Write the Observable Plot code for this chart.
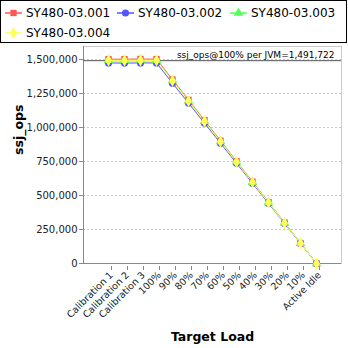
<!DOCTYPE html>
<html>
<head>
<meta charset="utf-8">
<script src="https://cdn.jsdelivr.net/npm/d3@7"></script>
<script src="https://cdn.jsdelivr.net/npm/@observablehq/plot@0.6"></script>
<style>
  html, body { margin: 0; padding: 0; background: #fff; }
  body { width: 348px; height: 348px; overflow: hidden; font-family: "DejaVu Sans", sans-serif; }
  #legend { box-sizing: border-box; width: 347px; height: 43px; border: 1px solid #000; position: relative; margin: 0; }
  .item { position: absolute; display: flex; align-items: center; font-size: 12px; color: #000; height: 16px; }
  .item svg { margin-right: 4px; }
  #chart svg { display: block; }
</style>
</head>
<body>
<div id="legend"></div>
<div id="chart"></div>
<script>
const categories = ["Calibration 1","Calibration 2","Calibration 3","100%","90%","80%","70%","60%","50%","40%","30%","20%","10%","Active Idle"];
const seriesNames = ["SY480-03.001","SY480-03.002","SY480-03.003","SY480-03.004"];
const seriesColors = ["#ff5555","#5555ff","#55ff55","#ffff55"];
const seriesSymbols = ["square","circle","triangle","diamond"];
const s001 = [1503000,1503000,1504000,1503000,1353000,1203000,1053000,903000,752000,602000,451000,301000,150000,0];
const s002 = [1475000,1474000,1475000,1475000,1326000,1180000,1032000,885000,737000,590000,442000,295000,147000,0];
const s003 = [1496000,1496000,1497000,1496000,1346000,1197000,1047000,898000,748000,598000,449000,299000,150000,0];
const s004 = [1493000,1492000,1493000,1493000,1343000,1194000,1044000,895000,746000,597000,448000,298000,149000,0];
const yTicks = [0,250000,500000,750000,1000000,1250000,1500000];
const refValue = 1491722;
const refLabel = "ssj_ops@100% per JVM=1,491,722";

const allSeries = [s001, s002, s003, s004];
const data = [];
allSeries.forEach((vals, si) => vals.forEach((v, i) => data.push({series: seriesNames[si], cat: categories[i], value: v})));

// Legend
const legend = document.getElementById("legend");
const legendPos = [[4,4],[116,4],[229,4],[4,24]];
seriesNames.forEach((name, i) => {
  const div = document.createElement("div");
  div.className = "item";
  div.style.left = legendPos[i][0] + "px";
  div.style.top = legendPos[i][1] + "px";
  const sym = d3.symbol().type({square: d3.symbolSquare, circle: d3.symbolCircle, triangle: d3.symbolTriangle, diamond: d3.symbolDiamond}[seriesSymbols[i]]).size(40)();
  div.innerHTML = `<svg width="17" height="12"><line x1="0" x2="17" y1="6" y2="6" stroke="${seriesColors[i]}" stroke-width="1.5"/><path d="${sym}" transform="translate(8.5,6)" fill="${seriesColors[i]}"/></svg><span>${name}</span>`;
  legend.appendChild(div);
});

const chart = Plot.plot({
  width: 348,
  height: 305,
  marginTop: 3,
  marginBottom: 85,
  marginLeft: 83,
  marginRight: 7,
  style: {fontFamily: "DejaVu Sans, sans-serif", fontSize: "10px", background: "#fff", color: "#333"},
  x: {type: "point", domain: categories, padding: 1.22, label: null},
  y: {domain: [0, 1596000], label: null},
  marks: [
    Plot.gridY(yTicks, {stroke: "#c8c8c8", strokeOpacity: 1, strokeDasharray: "2,2"}),
    Plot.frame({stroke: "#cccccc"}),
    Plot.axisY(yTicks, {tickFormat: d3.format(","), tickSize: 4, tickPadding: 2, stroke: "#888", fill: "#222", fontSize: 10}),
    Plot.axisX({tickRotate: -45, tickSize: 4, tickPadding: 3, dx: 3, dy: 3, stroke: "#888", fill: "#222", fontSize: 9.5}),
    Plot.frame({anchor: "left", stroke: "#888"}),
    Plot.ruleY([0], {stroke: "#888"}),
    Plot.ruleY([refValue], {stroke: "#555", strokeWidth: 1}),
    Plot.text([refLabel], {frameAnchor: "top-right", dx: -7, dy: 9, lineAnchor: "middle", textAnchor: "end", fill: "#000", fontSize: 9}),
    ...seriesNames.map((name, si) => Plot.line(data.filter(d => d.series === name), {x: "cat", y: "value", stroke: seriesColors[si], strokeWidth: 1})),
    ...seriesNames.map((name, si) => Plot.dot(data.filter(d => d.series === name), {x: "cat", y: "value", fill: seriesColors[si], symbol: seriesSymbols[si], r: 3.6, stroke: "none"})),
    Plot.text(["ssj_ops"], {frameAnchor: "left", dx: -65, rotate: -90, fontWeight: "bold", fontSize: 12.5, fill: "#000"}),
    Plot.text(["Target Load"], {frameAnchor: "bottom", dy: 77, fontWeight: "bold", fontSize: 12.5, fill: "#000"})
  ]
});
document.getElementById("chart").appendChild(chart);
</script>
</body>
</html>
